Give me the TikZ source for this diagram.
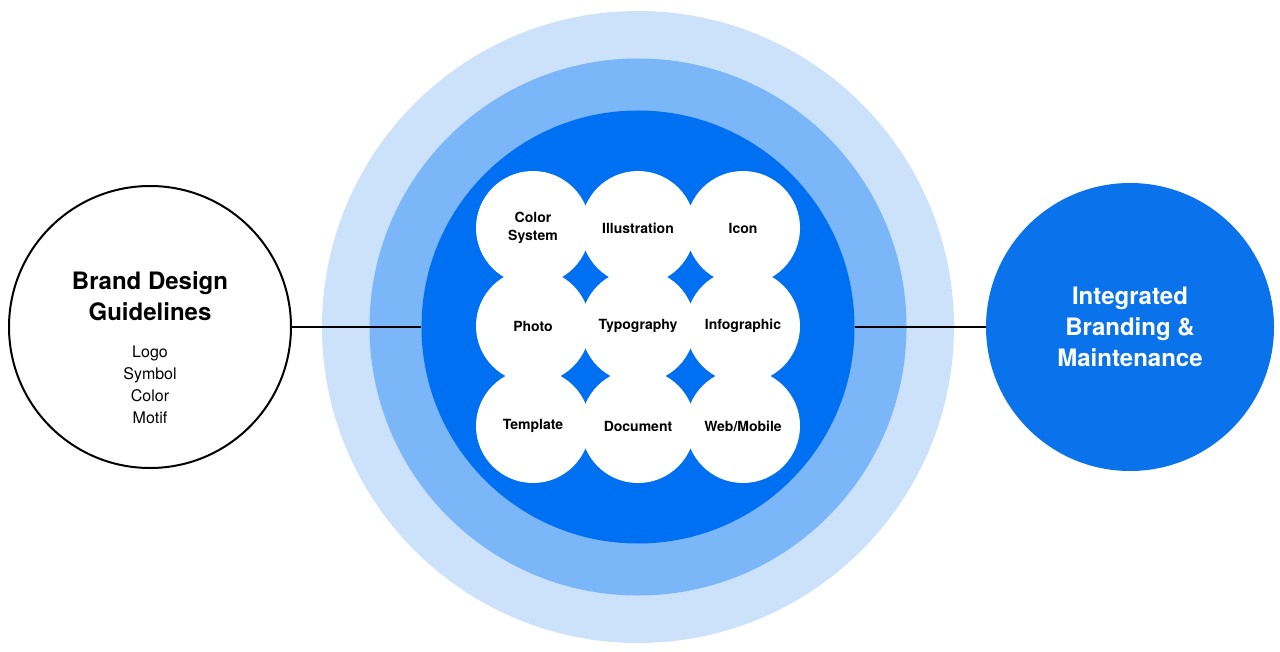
\documentclass[tikz,border=0pt]{standalone}
\usepackage{fontspec}
\setmainfont{TeX Gyre Heros}
\definecolor{c1}{HTML}{CCE2FB}
\definecolor{c2}{HTML}{7AB6F8}
\definecolor{c3}{HTML}{0070F2}
\definecolor{c4}{HTML}{0A72EA}
\begin{document}
\begin{tikzpicture}[x=0.75pt,y=-0.75pt,
  circ/.style={circle,inner sep=0pt,minimum size=#1*0.75pt},
  small/.style={circ=114,fill=white},
  lab/.style={font=\bfseries\fontsize{10.5}{13}\selectfont,align=center}]
\useasboundingbox (0,0) rectangle (1280,652);
\node[circ=632,fill=c1] (outer) at (638,327) {};
\node[circ=537,fill=c2] (mid) at (638,327) {};
\node[circ=433,fill=c3] (inner) at (638,327) {};
\foreach \n/\x/\y in {a/533/228, b/638/228, c/743/228, d/533/326, e/638/326, f/743/326, g/533/426, h/638/426, i/743/426}
  \node[small] (\n) at (\x,\y) {};
\foreach \n/\t in {a/{Color\\System}, b/Illustration, c/Icon, d/Photo, e/Typography, f/Infographic, g/Template, h/Document, i/Web\slash Mobile}
  \node[lab] (t\n) at (\n) {\t};
\node[circ=282,draw=black,line width=1.5pt,fill=white] (left) at (150,327) {};
\node[align=center,font=\bfseries\fontsize{18}{23}\selectfont] (lt) at (150,296) {Brand Design\\Guidelines};
\node[align=center,font=\fontsize{12}{16.5}\selectfont] (ll) at (150,385) {Logo\\Symbol\\Color\\Motif};
\node[circ=288,fill=c4] (right) at (1130,327) {};
\node[align=center,text=white,font=\bfseries\fontsize{18}{23.5}\selectfont] (rt) at (1130,327) {Integrated\\Branding \&\\Maintenance};
\draw[line width=1.5pt] (left.east) -- (inner.west);
\draw[line width=1.5pt] (inner.east) -- (right.west);
\end{tikzpicture}
\end{document}
